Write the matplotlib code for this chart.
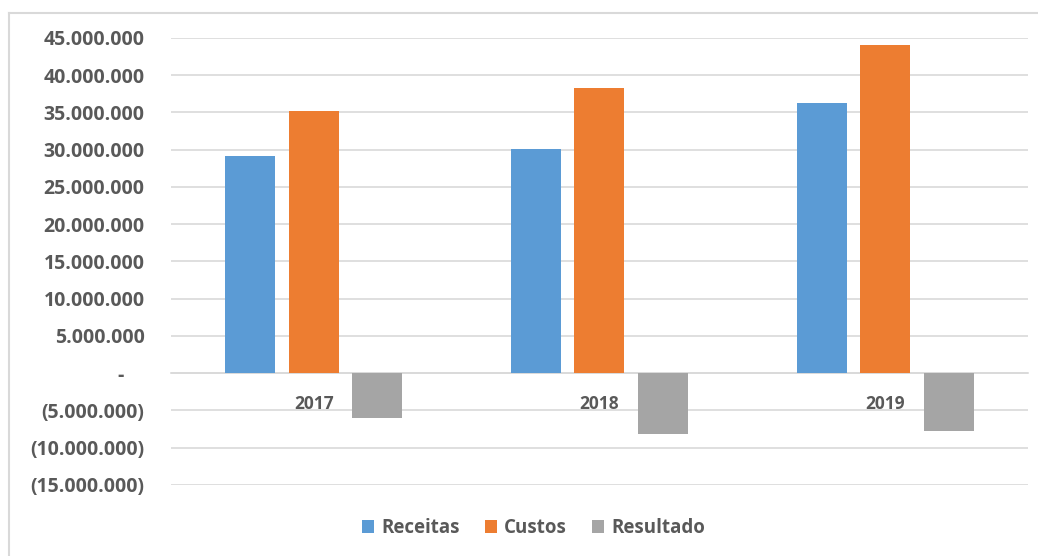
import numpy as np
import matplotlib.pyplot as plt
from matplotlib.lines import Line2D
from matplotlib.ticker import FuncFormatter, MultipleLocator

plt.rcParams['font.family'] = ['Open Sans', 'DejaVu Sans']

# dados
anos = ['2017', '2018', '2019']
receitas = [29200000, 30100000, 36300000]
custos = [35200000, 38300000, 44100000]
resultado = [-6000000, -8200000, -7800000]

cor_texto = '#595959'
cor_grade = '#D9D9D9'


def fmt(v, pos):
    # formato contábil: negativos entre parênteses, zero como traço
    if abs(v) < 1:
        return '-    '
    s = '{:,.0f}'.format(abs(v)).replace(',', '.')
    if v < 0:
        return '(' + s + ')'
    return s


fig = plt.figure(figsize=(10.38, 5.56), dpi=100)
ax = fig.add_axes([0.1647, 0.1277, 0.9904 - 0.1647, 0.9317 - 0.1277])

x = np.arange(len(anos))
w = 0.175
d = 0.222
ax.bar(x - d, receitas, w, color='#5B9BD5', label='Receitas', zorder=3)
ax.bar(x, custos, w, color='#ED7D31', label='Custos', zorder=3)
ax.bar(x + d, resultado, w, color='#A5A5A5', label='Resultado', zorder=3)

ax.set_xlim(-0.5, 2.5)
ax.set_ylim(-15000000, 45000000)
ax.yaxis.set_major_locator(MultipleLocator(5000000))
ax.yaxis.set_major_formatter(FuncFormatter(fmt))
ax.grid(axis='y', color=cor_grade, linewidth=1.2, zorder=0)

for s in ['top', 'right', 'left']:
    ax.spines[s].set_visible(False)
ax.spines['bottom'].set_position(('data', 0))
ax.spines['bottom'].set_color(cor_grade)
ax.spines['bottom'].set_linewidth(1.2)
ax.spines['bottom'].set_zorder(2)

ax.set_xticks(x)
ax.set_xticklabels(anos)
ax.tick_params(axis='x', length=0, pad=16, labelsize=12.5, labelcolor=cor_texto)
ax.tick_params(axis='y', length=0, pad=19, labelsize=14, labelcolor=cor_texto)
for t in ax.get_xticklabels() + ax.get_yticklabels():
    t.set_fontweight('bold')

# legenda
leg = fig.legend(loc='center', bbox_to_anchor=(0.514, 0.050), ncol=3, frameon=False,
                 handlelength=0.65, handleheight=0.65, handletextpad=0.4,
                 columnspacing=1.3, prop={'size': 13.5, 'weight': 'bold'})
for t in leg.get_texts():
    t.set_color(cor_texto)

# borda do gráfico
fig.add_artist(Line2D([0.0087, 1.0], [0.9766, 0.9766], color=cor_grade, linewidth=1.5))
fig.add_artist(Line2D([0.0087, 0.0087], [0.0, 0.9766], color=cor_grade, linewidth=1.5))

plt.savefig('out.png', dpi=100)
